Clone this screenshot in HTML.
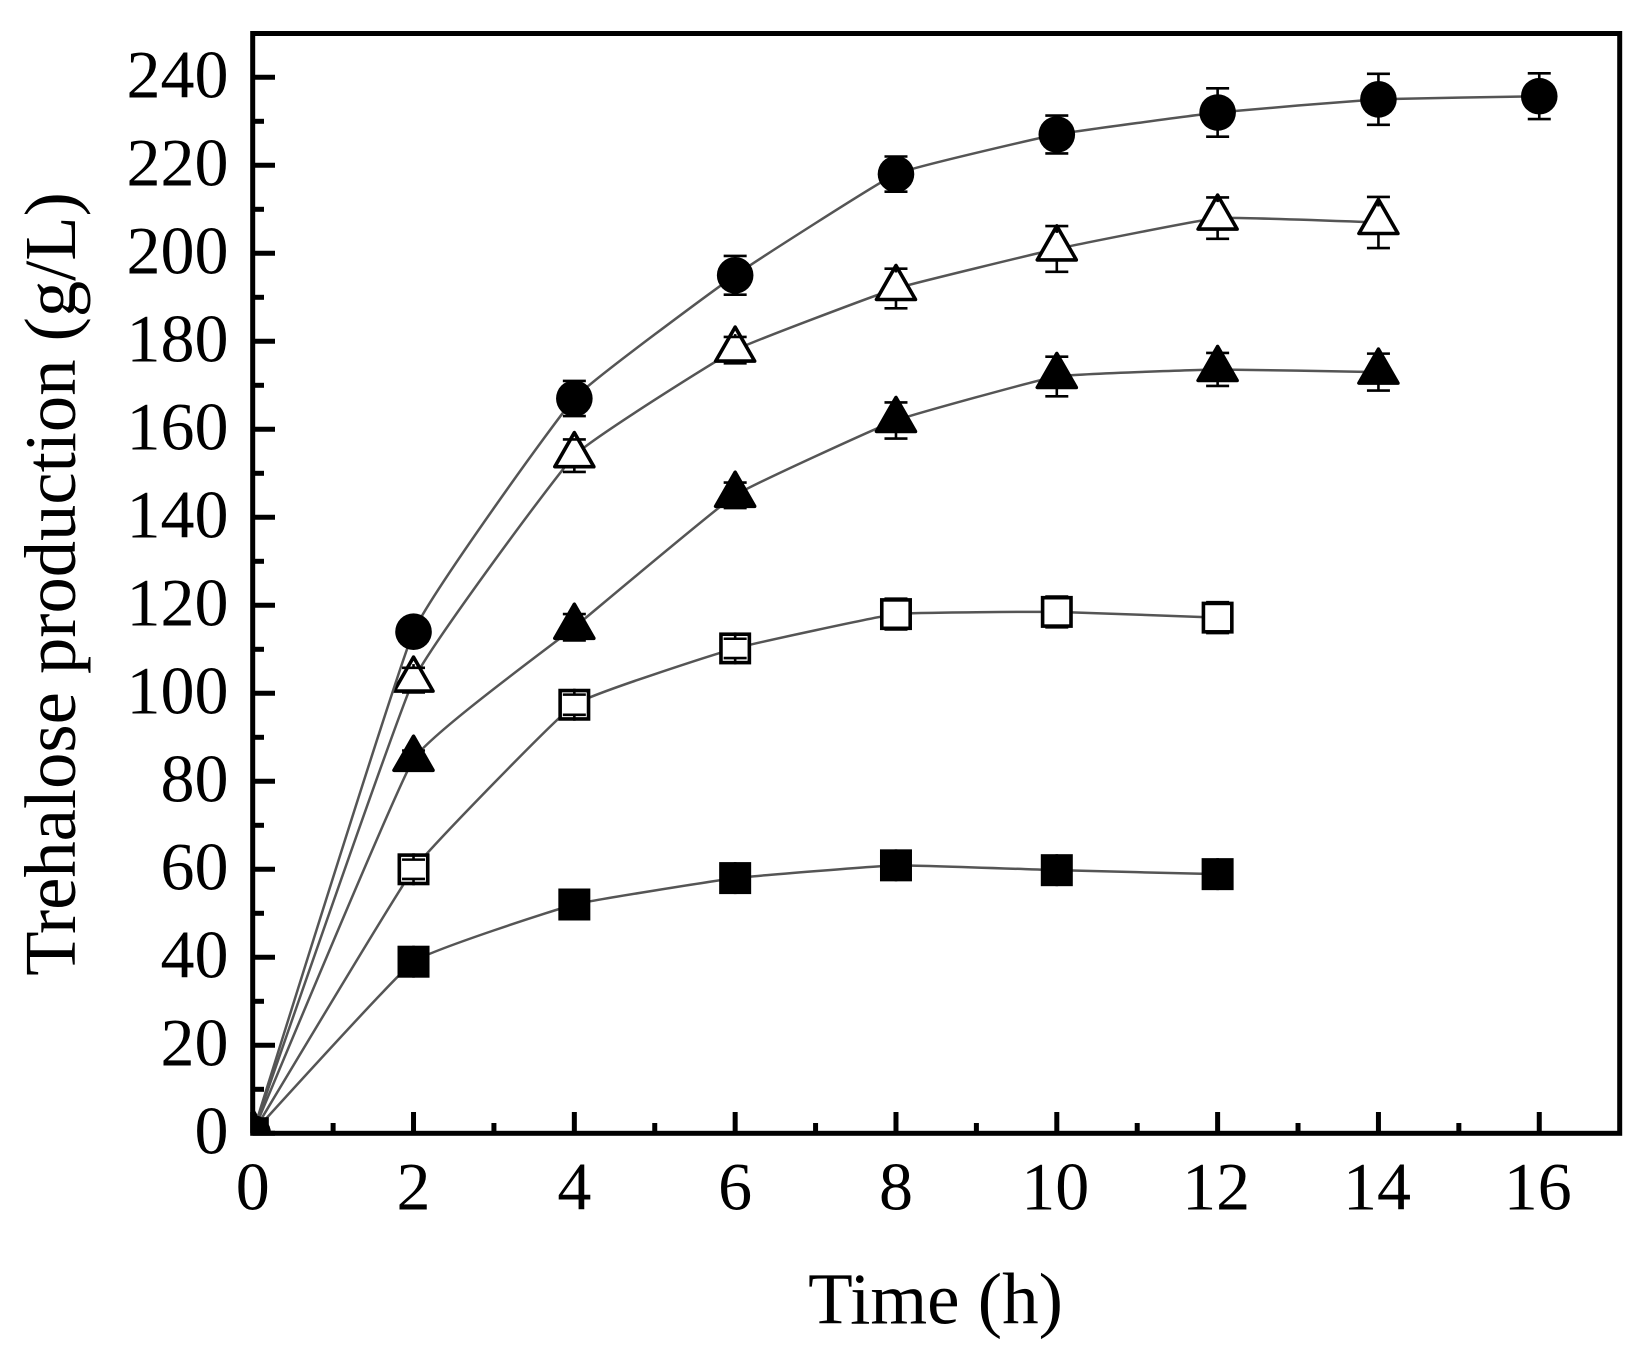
<!DOCTYPE html>
<html lang="en">
<head>
<meta charset="utf-8">
<title>Trehalose production over time</title>
<style>
  html, body { margin: 0; padding: 0; background: #fff; }
  svg { display: block; }
  text { font-family: "Liberation Serif", "Times New Roman", serif; fill: #000; }
</style>
</head>
<body>
<svg id="chart" xmlns="http://www.w3.org/2000/svg" width="1648" height="1346" viewBox="0 0 1648 1346">
  <defs>
    <clipPath id="plot-clip"><rect x="252.7" y="33.5" width="1367" height="1099.8"></rect></clipPath>
  </defs>
  <g id="series-layer" clip-path="url(#plot-clip)"></g>
  <g id="axis-layer"></g>
  <text transform="translate(75 584) rotate(-90)" text-anchor="middle" font-size="72.6">Trehalose production (g/L)</text>
  <text x="935.5" y="1323.5" text-anchor="middle" font-size="73">Time (h)</text>
</svg>
<script>
const timeHours = [0, 2, 4, 6, 8, 10, 12, 14, 16];
const xTickLabels = ['0', '2', '4', '6', '8', '10', '12', '14', '16'];
const xMinorTicks = [1, 3, 5, 7, 9, 11, 13, 15];
const yTickLabels = ['0', '20', '40', '60', '80', '100', '120', '140', '160', '180', '200', '220', '240'];
const yMinorTicks = [10, 30, 50, 70, 90, 110, 130, 150, 170, 190, 210, 230];

const filledSquareValues = [0, 39, 52, 58, 60.9, 59.8, 58.9];
const filledSquareErrors = [0, 1, 1, 1, 1, 1, 1];
const openSquareValues = [0, 60, 97.4, 110.2, 118, 118.5, 117.2];
const openSquareErrors = [0, 2.2, 2.3, 2.2, 3.5, 3.5, 3.5];
const filledTriangleValues = [0, 85, 115, 145, 162, 172, 173.6, 173];
const filledTriangleErrors = [0, 2, 3, 2.9, 4.1, 4.5, 3.75, 4.2];
const openTriangleValues = [0, 103, 154, 178, 192, 201, 208, 207];
const openTriangleErrors = [0, 2.8, 3.7, 3, 4.5, 5.2, 4.7, 5.8];
const circleValues = [0, 114, 167, 195, 218, 227, 232, 235, 235.7];
const circleErrors = [0, 2, 4, 4.4, 4, 4.3, 5.5, 5.8, 5.2];

const NS = 'http://www.w3.org/2000/svg';
const xScale = v => 252.7 + 80.41 * v;
const yScale = v => 1133.3 - 4.4 * v;

function make(tag, attrs, parent) {
  const el = document.createElementNS(NS, tag);
  for (const k in attrs) el.setAttribute(k, attrs[k]);
  parent.appendChild(el);
  return el;
}

function smoothPath(xs, ys) {
  const n = xs.length, k = 0.05;
  let path = 'M' + xs[0].toFixed(2) + ' ' + ys[0].toFixed(2);
  for (let i = 0; i < n - 1; i++) {
    const p0 = Math.max(i - 1, 0), p3 = Math.min(i + 2, n - 1);
    const c1x = xs[i] + (xs[i + 1] - xs[p0]) * k;
    const c1y = ys[i] + (ys[i + 1] - ys[p0]) * k;
    const c2x = xs[i + 1] - (xs[p3] - xs[i]) * k;
    const c2y = ys[i + 1] - (ys[p3] - ys[i]) * k;
    path += 'C' + c1x.toFixed(2) + ' ' + c1y.toFixed(2) + ' ' + c2x.toFixed(2) + ' ' + c2y.toFixed(2) + ' ' + xs[i + 1].toFixed(2) + ' ' + ys[i + 1].toFixed(2);
  }
  return path;
}

function drawMarker(kind, group, cx, cy) {
  if (kind === 'circle') {
    return make('circle', { cx: cx, cy: cy, r: 18.3, fill: '#000' }, group);
  }
  if (kind === 'filled-square') {
    return make('rect', { x: cx - 16, y: cy - 16, width: 32, height: 32, fill: '#000' }, group);
  }
  if (kind === 'open-square') {
    return make('rect', { x: cx - 14.2, y: cy - 14.2, width: 28.4, height: 28.4, fill: '#fff', stroke: '#000', 'stroke-width': 3.6 }, group);
  }
  const pts = (cx) + ',' + (cy - 23) + ' ' + (cx - 19.5) + ',' + (cy + 11) + ' ' + (cx + 19.5) + ',' + (cy + 11);
  return make('polygon', {
    points: pts,
    fill: kind === 'open-triangle' ? '#fff' : '#000',
    stroke: '#000',
    'stroke-width': 3.6,
    'stroke-linejoin': 'round'
  }, group);
}

function drawErrorBar(kind, group, cx, cy, errPx) {
  const style = { stroke: '#000', 'stroke-width': 2.6, fill: 'none' };
  const isTriangle = kind.indexOf('triangle') >= 0;
  [-1, 1].forEach(dir => {
    const capY = cy + dir * errPx;
    const edge = (isTriangle && dir > 0) ? 11 : 16;
    make('line', Object.assign({ x1: cx - 11.5, x2: cx + 11.5, y1: capY, y2: capY }, style), group);
    make('line', Object.assign({ x1: cx, x2: cx, y1: cy + dir * edge, y2: capY }, style), group);
  });
}

function drawSeries(kind, values, errors) {
  const layer = document.getElementById('series-layer');
  const group = make('g', {}, layer);
  
  

  const xs = values.map((_, i) => xScale(timeHours[i]));
  const ys = values.map(v => yScale(v));
  const line = make('path', { d: smoothPath(xs, ys), fill: 'none', stroke: '#555', 'stroke-width': 2.5 }, group);
  
  

  values.forEach((v, i) => {
    const marker = drawMarker(kind, group, xs[i], ys[i]);
    
    
    if (errors[i] > 0) {
      const bar = make('g', {}, group);
      
      
      drawErrorBar(kind, bar, xs[i], ys[i], errors[i] * 4.4);
    }
  });
}

function drawAxes() {
  const axis = document.getElementById('axis-layer');
  const frame = make('rect', { x: 252.7, y: 33.5, width: 1367, height: 1099.8, fill: 'none', stroke: '#000', 'stroke-width': 5 }, axis);
  
  

  xTickLabels.forEach(label => {
    const x = xScale(Number(label));
    const tick = make('line', { x1: x, x2: x, y1: 1133.3, y2: 1112, stroke: '#000', 'stroke-width': 5 }, axis);
    
    
    const labelShift = label.length > 1 ? -1.5 : 0;
    const text = make('text', { x: x + labelShift, y: 1209.5, 'text-anchor': 'middle', 'font-size': 68 }, axis);
    text.textContent = label;
    
    
  });
  xMinorTicks.forEach(v => {
    const x = xScale(v);
    const tick = make('line', { x1: x, x2: x, y1: 1133.3, y2: 1123, stroke: '#000', 'stroke-width': 5 }, axis);
    
    
  });
  yTickLabels.forEach(label => {
    const y = yScale(Number(label));
    const tick = make('line', { x1: 252.7, x2: 275, y1: y, y2: y, stroke: '#000', 'stroke-width': 5 }, axis);
    
    
    const text = make('text', { x: 228.5, y: y + 20, 'text-anchor': 'end', 'font-size': 68 }, axis);
    text.textContent = label;
    
    
  });
  yMinorTicks.forEach(v => {
    const y = yScale(v);
    const tick = make('line', { x1: 252.7, x2: 264, y1: y, y2: y, stroke: '#000', 'stroke-width': 5 }, axis);
    
    
  });
}

drawSeries('filled-square', filledSquareValues, filledSquareErrors);
drawSeries('open-square', openSquareValues, openSquareErrors);
drawSeries('filled-triangle', filledTriangleValues, filledTriangleErrors);
drawSeries('open-triangle', openTriangleValues, openTriangleErrors);
drawSeries('circle', circleValues, circleErrors);
drawAxes();
</script>
</body>
</html>
